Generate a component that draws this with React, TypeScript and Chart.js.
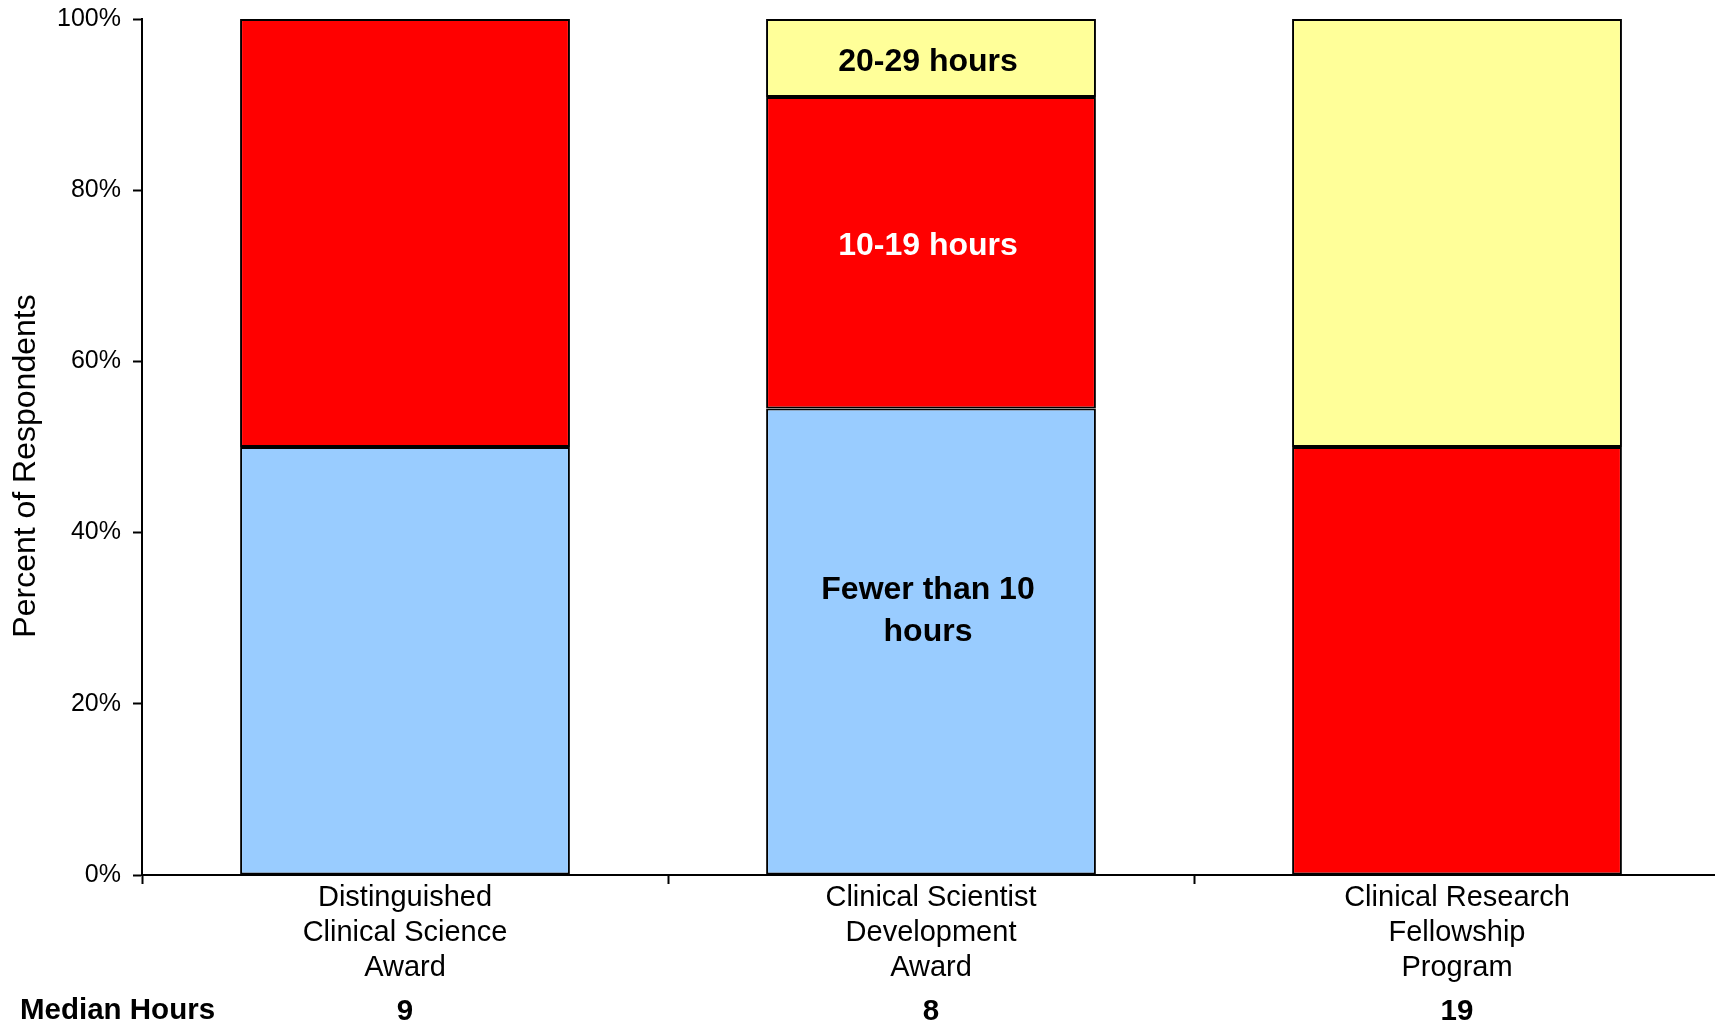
import { useEffect, useRef } from 'react';
import { Chart, registerables } from 'chart.js';

Chart.register(...registerables);

const categories: string[][] = [
  ['Distinguished', 'Clinical Science', 'Award'],
  ['Clinical Scientist', 'Development', 'Award'],
  ['Clinical Research', 'Fellowship', 'Program'],
];
const seriesNames = ['Fewer than 10 hours', '10-19 hours', '20-29 hours'];
const fewerThan10: (number | null)[] = [50, 54.5, null];
const tenTo19: (number | null)[] = [50, 36.4, 50];
const twentyTo29: (number | null)[] = [null, 9.1, 50];
const medianHours = ['9', '8', '19'];
const medianTitle = 'Median Hours';
const yTitle = 'Percent of Respondents';

// in-bar labels for the middle bar: text lines, colour, anchor value (percent)
const labelCategory = 1;
const labelLines = [['20-29 hours'], ['10-19 hours'], ['Fewer than 10', 'hours']];
const labelColors = ['#000000', '#ffffff', '#000000'];
const labelAnchors = [94.9, 73.5, 30.8];

const FONT = "'Liberation Sans', Arial, Helvetica, sans-serif";

export default function App() {
  const ref = useRef<HTMLCanvasElement | null>(null);

  useEffect(() => {
    document.body.style.margin = '0';
    const canvas = ref.current;
    if (!canvas) return;

    const overlay = {
      id: 'overlay',
      afterDraw(chart: any) {
        const ctx = chart.ctx as CanvasRenderingContext2D;
        const x = chart.scales.x;
        const y = chart.scales.y;
        ctx.save();
        // in-bar labels
        ctx.font = `bold 32px ${FONT}`;
        ctx.textAlign = 'center';
        ctx.textBaseline = 'middle';
        const cx = x.getPixelForValue(labelCategory) - 3;
        labelLines.forEach((lines, i) => {
          const cy = y.getPixelForValue(labelAnchors[i]);
          const lh = 42;
          ctx.fillStyle = labelColors[i];
          lines.forEach((t, j) => {
            ctx.fillText(t, cx, cy + (j - (lines.length - 1) / 2) * lh);
          });
        });
        // median row
        ctx.fillStyle = '#000';
        ctx.font = `bold 29.5px ${FONT}`;
        ctx.textAlign = 'left';
        ctx.fillText(medianTitle, 20, 1011);
        ctx.textAlign = 'center';
        medianHours.forEach((m, i) => {
          ctx.fillText(m, x.getPixelForValue(i), 1012);
        });
        // y title
        ctx.font = `32px ${FONT}`;
        ctx.translate(26, 466);
        ctx.rotate(-Math.PI / 2);
        ctx.textAlign = 'center';
        ctx.fillText(yTitle, 0, 0);
        ctx.restore();
      },
    };

    const common = {
      borderColor: '#000000',
      borderWidth: 2,
      borderSkipped: false as const,
      categoryPercentage: 1,
      barPercentage: 0.627,
    };

    const chart = new Chart(canvas, {
      type: 'bar',
      data: {
        labels: categories,
        datasets: [
          { label: seriesNames[0], data: fewerThan10, backgroundColor: '#99CCFF', ...common },
          { label: seriesNames[1], data: tenTo19, backgroundColor: '#FF0000', ...common },
          { label: seriesNames[2], data: twentyTo29, backgroundColor: '#FFFF99', ...common },
        ],
      },
      options: {
        responsive: true,
        maintainAspectRatio: false,
        animation: false,
        layout: { padding: { top: 19, left: 0, right: 0, bottom: 0 } },
        plugins: {
          legend: { display: false },
          tooltip: { enabled: false },
        },
        scales: {
          x: {
            stacked: true,
            grid: {
              display: true,
              drawOnChartArea: false,
              drawTicks: true,
              tickLength: 9,
              tickWidth: 2,
              tickColor: '#000',
              offset: true,
            },
            border: { display: true, color: '#000', width: 2 },
            ticks: {
              color: '#000',
              font: { family: FONT, size: 29, lineHeight: 1.207 },
              padding: -4,
              maxRotation: 0,
              autoSkip: false,
            },
            afterFit(scale: any) {
              scale.height = 150;
              scale.paddingLeft = 0;
              scale.paddingRight = 0;
            },
          },
          y: {
            stacked: true,
            min: 0,
            max: 100,
            grid: {
              display: true,
              drawOnChartArea: false,
              drawTicks: true,
              tickLength: 9,
              tickWidth: 2,
              tickColor: '#000',
            },
            border: { display: true, color: '#000', width: 2 },
            ticks: {
              stepSize: 20,
              color: '#000',
              font: { family: FONT, size: 25 },
              padding: 12,
              callback: (v: any) => `${v}%`,
            },
            afterFit(scale: any) {
              scale.width = 142;
              scale.paddingTop = 0;
              scale.paddingBottom = 0;
            },
          },
        },
      },
      plugins: [overlay],
    });

    return () => chart.destroy();
  }, []);

  return (
    <div style={{ width: '1715px', height: '1025px', position: 'relative', overflow: 'hidden', background: '#fff' }}>
      <div style={{ width: '1720px', height: '1025px', position: 'relative' }}>
        <canvas ref={ref} />
      </div>
    </div>
  );
}
